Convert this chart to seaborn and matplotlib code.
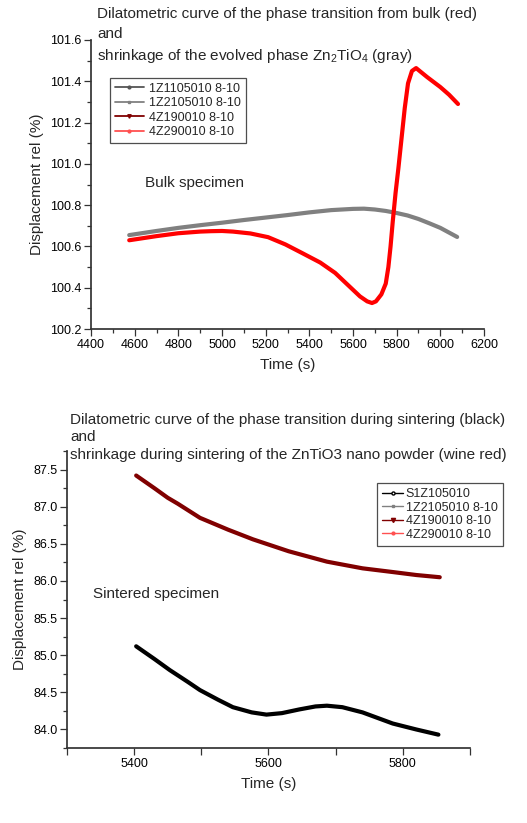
import matplotlib
matplotlib.use("Agg")
import matplotlib.pyplot as plt
from matplotlib.lines import Line2D
from matplotlib.ticker import MultipleLocator, FixedLocator
import seaborn as sns
import pandas as pd

# ---------------- data ----------------
# Top panel: bulk specimen
gray_t = [4575, 4700, 4800, 4900, 5000, 5100, 5200, 5300, 5400, 5500, 5600, 5650,
          5700, 5750, 5800, 5850, 5900, 5950, 6000, 6077]
gray_v = [100.655, 100.675, 100.69, 100.703, 100.715, 100.728, 100.74, 100.752, 100.765,
          100.776, 100.782, 100.783, 100.779, 100.772, 100.762, 100.75, 100.733, 100.712,
          100.69, 100.646]
red_t = [4575, 4700, 4800, 4900, 4950, 5000, 5050, 5130, 5211, 5290, 5367, 5450, 5518,
         5580, 5632, 5665, 5687, 5705, 5730, 5750, 5762, 5772, 5782, 5795, 5808, 5822,
         5837, 5852, 5870, 5889, 5940, 6000, 6040, 6081]
red_v = [100.63, 100.65, 100.664, 100.672, 100.674, 100.675, 100.672, 100.663, 100.645,
         100.61, 100.568, 100.522, 100.472, 100.41, 100.358, 100.334, 100.326, 100.334,
         100.368, 100.42, 100.5, 100.6, 100.72, 100.86, 100.98, 101.12, 101.27, 101.39,
         101.45, 101.464, 101.42, 101.372, 101.335, 101.29]

# Bottom panel: sintered specimen
black_t = [5403, 5430, 5453, 5480, 5498, 5525, 5547, 5575, 5597, 5620, 5646, 5670,
           5687, 5710, 5740, 5785, 5820, 5853]
black_v = [85.12, 84.95, 84.80, 84.64, 84.53, 84.40, 84.30, 84.23, 84.20, 84.22, 84.27,
           84.31, 84.32, 84.30, 84.23, 84.08, 84.00, 83.93]
wine_t = [5403, 5430, 5450, 5465, 5498, 5540, 5577, 5630, 5687, 5740, 5785, 5820, 5855]
wine_v = [87.42, 87.25, 87.12, 87.04, 86.85, 86.69, 86.56, 86.40, 86.26, 86.17, 86.12,
          86.08, 86.05]

top_title = ("Dilatometric curve of the phase transition from bulk (red)\nand\n"
             "shrinkage of the evolved phase Zn$_2$TiO$_4$ (gray)")
bottom_title = ("Dilatometric curve of the phase transition during sintering (black)\nand\n"
                "shrinkage during sintering of the ZnTiO3 nano powder (wine red)")
top_legend = ["1Z1105010 8-10", "1Z2105010 8-10", "4Z190010 8-10", "4Z290010 8-10"]
bottom_legend = ["S1Z105010", "1Z2105010 8-10", "4Z190010 8-10", "4Z290010 8-10"]
top_xticks = [4400, 4600, 4800, 5000, 5200, 5400, 5600, 5800, 6000, 6200]
top_yticks = [100.2, 100.4, 100.6, 100.8, 101.0, 101.2, 101.4, 101.6]
bottom_xticks = [5400, 5600, 5800]
bottom_yticks = [84.0, 84.5, 85.0, 85.5, 86.0, 86.5, 87.0, 87.5]

# ---------------- style ----------------
sns.set_theme(style="ticks")
plt.rcParams['font.family'] = ['Liberation Sans', 'DejaVu Sans']
plt.rcParams['mathtext.fontset'] = 'custom'
plt.rcParams['mathtext.rm'] = 'Liberation Sans'
plt.rcParams['mathtext.it'] = 'Liberation Sans'

fig = plt.figure(figsize=(5.27, 8.23), dpi=100)
ax1 = fig.add_axes([0.1727, 0.6002, 0.7457, 0.3512])
ax2 = fig.add_axes([0.1271, 0.0911, 0.7647, 0.3609])

C_DGRAY = "#555555"
C_GRAY = "#808080"
C_WINE = "#800000"
C_RED = "#FF0000"

df_gray = pd.DataFrame({"t": gray_t, "v": gray_v})
df_red = pd.DataFrame({"t": red_t, "v": red_v})
sns.lineplot(data=df_gray, x="t", y="v", ax=ax1, color=C_GRAY, lw=3.0, sort=False,
             solid_capstyle="round")
sns.lineplot(data=df_red, x="t", y="v", ax=ax1, color=C_RED, lw=3.0, sort=False,
             solid_capstyle="round")

df_black = pd.DataFrame({"t": black_t, "v": black_v})
df_wine = pd.DataFrame({"t": wine_t, "v": wine_v})
sns.lineplot(data=df_wine, x="t", y="v", ax=ax2, color=C_WINE, lw=3.0, sort=False,
             solid_capstyle="round")
sns.lineplot(data=df_black, x="t", y="v", ax=ax2, color="black", lw=3.0, sort=False,
             solid_capstyle="round")

for ax in (ax1, ax2):
    sns.despine(ax=ax)
    ax.spines['left'].set_color("#333333")
    ax.spines['bottom'].set_color("#333333")
    ax.tick_params(axis='both', which='major', direction='out', length=5, width=0.9,
                   labelsize=9, colors="#333333", labelcolor="black", pad=2)
    ax.tick_params(axis='both', which='minor', direction='out', length=3, width=0.9,
                   colors="#333333")

# top axes
ax1.set_xlim(4400, 6200)
ax1.set_ylim(100.2, 101.6)
ax1.set_xticks(top_xticks)
ax1.set_yticks(top_yticks)
ax1.set_xticklabels([str(v) for v in top_xticks])
ax1.set_yticklabels([f"{v:.1f}" for v in top_yticks])
ax1.xaxis.set_minor_locator(MultipleLocator(100))
ax1.yaxis.set_minor_locator(MultipleLocator(0.1))
ax1.set_xlabel("Time (s)", fontsize=11, labelpad=5)
ax1.set_ylabel("Displacement rel (%)", fontsize=11, labelpad=4)
ax1.text(0.137, 0.505, "Bulk specimen", transform=ax1.transAxes, fontsize=11,
         va="center", ha="left")
fig.text(97 / 527, 1 - 7 / 823, top_title, fontsize=11, va="top", ha="left",
         linespacing=1.5)

h1 = [Line2D([], [], color=C_DGRAY, lw=1.3, marker='o', ms=2),
      Line2D([], [], color=C_GRAY, lw=1.3, marker='s', ms=2),
      Line2D([], [], color=C_WINE, lw=1.3, marker='v', ms=2.5),
      Line2D([], [], color="#FF5050", lw=1.3, marker='o', ms=2)]
leg1 = ax1.legend(h1, top_legend, loc="upper left", bbox_to_anchor=(0.048, 0.869),
                  borderaxespad=0, fontsize=9, frameon=True, fancybox=False,
                  handlelength=2.3, handletextpad=0.4, labelspacing=0.2,
                  borderpad=0.4)
leg1.get_frame().set_edgecolor("#222222")
leg1.get_frame().set_linewidth(0.9)

# bottom axes
ax2.set_xlim(5300, 5900)
ax2.set_ylim(83.75, 87.75)
ax2.set_xticks(bottom_xticks)
ax2.set_xticklabels([str(v) for v in bottom_xticks])
ax2.xaxis.set_minor_locator(FixedLocator([5300, 5500, 5700, 5900]))
ax2.tick_params(axis='x', which='minor', length=5)
ax2.set_yticks(bottom_yticks)
ax2.set_yticklabels([f"{v:.1f}" for v in bottom_yticks])
ax2.yaxis.set_minor_locator(MultipleLocator(0.25))
ax2.set_xlabel("Time (s)", fontsize=11, labelpad=5)
ax2.set_ylabel("Displacement rel (%)", fontsize=11, labelpad=4)
ax2.text(0.065, 0.519, "Sintered specimen", transform=ax2.transAxes, fontsize=11,
         va="center", ha="left")
fig.text(70 / 527, 1 - 413 / 823, bottom_title, fontsize=11, va="top", ha="left",
         linespacing=1.3)

h2 = [Line2D([], [], color="black", lw=1.0, marker='o', ms=2.2, mfc='white'),
      Line2D([], [], color=C_GRAY, lw=1.0, marker='s', ms=2),
      Line2D([], [], color=C_WINE, lw=1.0, marker='v', ms=3),
      Line2D([], [], color="#FF5050", lw=1.0, marker='o', ms=2)]
leg2 = ax2.legend(h2, bottom_legend, loc="upper left", bbox_to_anchor=(0.769, 0.892),
                  borderaxespad=0, fontsize=9, frameon=True, fancybox=False,
                  handlelength=1.7, handletextpad=0.2, labelspacing=0.12,
                  borderpad=0.4)
leg2.get_frame().set_edgecolor("#222222")
leg2.get_frame().set_linewidth(0.9)

fig.savefig("out.png", dpi=100)
